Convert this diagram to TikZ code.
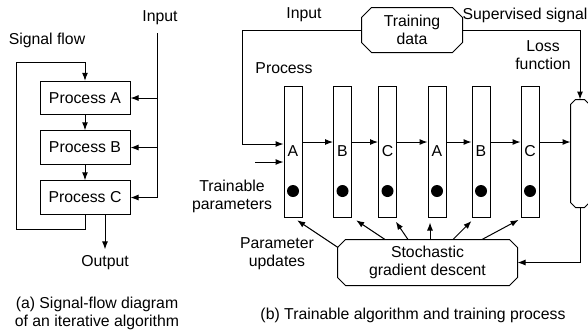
\documentclass[tikz,border=0pt]{standalone}
\usepackage{fontspec}
\setmainfont{Liberation Sans}
\usepackage{tikz}
\usetikzlibrary{arrows.meta}

\begin{document}
\begin{tikzpicture}[x=0.5pt, y=-0.5pt, line width=0.5pt,
 font=\fontsize{7.9}{9}\selectfont,
 >={Latex[length=4pt,width=3pt]},
 procbox/.style={draw, rectangle, minimum width=45pt, minimum height=16.75pt, inner sep=0pt},
 procbar/.style={draw, rectangle, minimum width=9pt, minimum height=65.5pt, inner sep=0pt},
 cham/.style={rectangle, inner sep=0pt, align=center},
 pdot/.style={circle, fill=black, minimum size=6pt, inner sep=0pt},
 lbl/.style={align=center, inner sep=0pt}]

\useasboundingbox (0,0) rectangle (588,334);

% (a) signal flow of the iteration
\node[procbox] (procA) at (85,98) {Process A};
\node[procbox] (procB) at (85,147.5) {Process B};
\node[procbox] (procC) at (85,197.5) {Process C};
\node[lbl] (inA) at (160,18) {Input};
\node[lbl] (flow) at (47,40) {Signal flow};
\node[lbl] (outA) at (105,263) {Output};
\node[lbl] (capA) at (97,313) {(a) Signal-flow diagram\\of an iterative algorithm};
\coordinate (inTop) at (157,33);

% input feeds every process
\draw
(inTop) -- (inTop |- procC.east);
 \foreach \p in {procA, procB, procC}
  {
  \draw[->] 
   (inTop |- \p.east) -- (\p.east);
  }
\draw[->] (procA) -- (procB);
\draw[->] (procB) -- (procC);
% loop back
\draw[->]
(procC.south) -- ++(0,15) -| (16,62) -| (procA.north);
\draw[->, shorten >=3pt]
(outA.north |- procC.south) -- (outA.north);

% (b) trainable algorithm
\node[cham, minimum width=50pt, minimum height=22pt] (trdata) at (412,30) {Training\\data};
\node[cham, minimum width=89.5pt, minimum height=22.5pt] (sgd) at (427.5,262.5) {Stochastic\\gradient descent};
\node[cham, minimum width=9pt, minimum height=53.5pt] (loss) at (580,153.5) {};

% chamfered outlines
 \foreach \n/\c in {trdata/5pt, sgd/4pt, loss/2.5pt}
  {
  \draw
   ([xshift=\c]\n.north west) -- ([xshift=-\c]\n.north east) -- ([yshift=-\c]\n.north east)
   -- ([yshift=\c]\n.south east) -- ([xshift=-\c]\n.south east) -- ([xshift=\c]\n.south west)
   -- ([yshift=\c]\n.south west) -- ([yshift=-\c]\n.north west) -- cycle;
  }

 \foreach \x/\l [count=\i] in {293/A,342.5/B,387.5/C,437/A,481/B,530/C}
  {
  \node[procbar] (bar\i) at (\x,151.5) {\l};
  \node[pdot] (dot\i) at (\x,191) {};
  }

\node[lbl] (inB) at (304,15) {Input};
\node[lbl] (procLbl) at (284,68) {Process};
\node[lbl] (supLbl) at (525,15) {Supervised signal};
\node[lbl] (lossLbl) at (543,55) {Loss\\function};
\node[lbl] (tpLbl) at (232,196) {Trainable\\parameters};
\node[lbl] (upLbl) at (277,254) {Parameter\\updates};
\node[lbl] (capB) at (413,315) {(b) Trainable algorithm and training process};
\coordinate (tpIn) at (255,162);

% signal through the layers
 \foreach \i [count=\j from 2] in {1,...,5}
  {
  \draw[->]
   ([yshift=4.75pt]bar\i.east) -- ([yshift=4.75pt]bar\j.west);
  }
\draw[->] ([yshift=4.75pt]bar6.east) -- ([yshift=4.75pt]bar6.east -| loss.west);
\draw[->]
(trdata.west) -| ([xshift=-20.5pt,yshift=3.75pt]bar1.west) -- ([yshift=3.75pt]bar1.west);
\draw[->] (tpIn) -- (tpIn -| bar1.west);
\draw[->] (trdata.east) -| (loss.north);
\draw[->] (loss.south) |- (sgd.east);

% parameter updates
 \foreach \i/\s/\t/\e in {1/-44.75/-4/0, 2/-21.25/0/4.75, 3/-9.75/0/2.75, 4/1.25/0/-3.5, 5/12.75/0/-3, 6/27.25/0/-3.5}
  {
  \draw[->, shorten >=2.5pt] 
   ([xshift=\s pt,yshift=\t pt]sgd.north) -- ([xshift=\e pt]bar\i.south);
  }

\end{tikzpicture}
\end{document}
